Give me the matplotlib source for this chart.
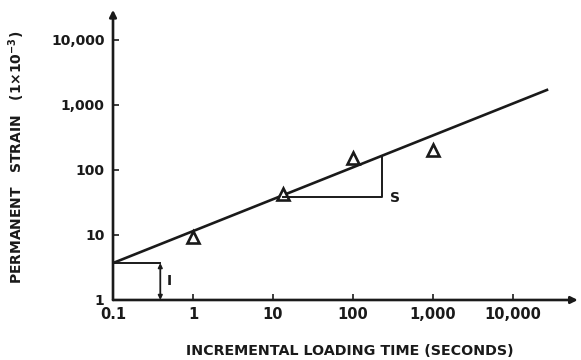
import matplotlib.pyplot as plt
import numpy as np

# measured points (loading time in s, permanent strain x1e-3)
time_pts = [1, 13.3, 100, 1000]
strain_pts = [9.3, 42, 155, 200]

# fitted line end points
line_t = [0.1, 26600]
line_e = [3.7, 1700]

# slope triangle and intercept marks
slope_t = [13.3, 232]
slope_e = [38, 160]
icpt_t = 0.39
icpt_e = 3.7

xticks = [0.1, 1, 10, 100, 1000, 10000]
xlabels = ['0.1', '1', '10', '100', '1,000', '10,000']
yticks = [1, 10, 100, 1000, 10000]
ylabels = ['1', '10', '100', '1,000', '10,000']

plt.rcParams['font.family'] = ['DejaVu Sans']
plt.rcParams['font.weight'] = 'bold'
plt.rcParams['mathtext.default'] = 'bf'

fig = plt.figure(figsize=(5.81, 3.6), dpi=100)
ax = fig.add_axes([0.1945, 0.1667, 0.80, 0.806])
ink = '#1a1a1a'

ax.set_xscale('log')
ax.set_yscale('log')
ax.set_xlim(0.1, 64600)
ax.set_ylim(1, 29000)

ax.plot(line_t, line_e, color=ink, lw=1.9)
ax.plot(time_pts, strain_pts, ls='none', marker='^', ms=8.5, mfc='white',
        mec=ink, mew=1.9)

# slope triangle
ax.plot([slope_t[0], slope_t[1], slope_t[1]],
        [slope_e[0], slope_e[0], slope_e[1]], color=ink, lw=1.4)
ax.text(slope_t[1] * 1.25, slope_e[0] * 0.97, 'S', fontsize=10,
        fontweight='bold', va='center', ha='left', color=ink)

# intercept
ax.plot([0.1, icpt_t], [icpt_e, icpt_e], color=ink, lw=1.4)
ax.annotate('', xy=(icpt_t, 1), xytext=(icpt_t, icpt_e),
            arrowprops=dict(arrowstyle='<|-|>', color=ink, lw=1.3,
                            mutation_scale=6, shrinkA=0, shrinkB=0))
ax.text(icpt_t * 1.2, 1.95, 'I', fontsize=10, fontweight='bold',
        va='center', ha='left', color=ink)

# axes with arrow heads
for s in ['top', 'right', 'left', 'bottom']:
    ax.spines[s].set_visible(False)
ax.annotate('', xy=(0, 1.0), xytext=(0, 0), xycoords='axes fraction',
            arrowprops=dict(arrowstyle='-|>', color=ink, lw=1.9,
                            mutation_scale=10, shrinkA=0, shrinkB=0))
ax.annotate('', xy=(1.0, 0), xytext=(0, 0), xycoords='axes fraction',
            arrowprops=dict(arrowstyle='-|>', color=ink, lw=1.9,
                            mutation_scale=10, shrinkA=0, shrinkB=0))

ax.set_xticks(xticks)
ax.set_xticklabels(xlabels)
ax.set_yticks(yticks)
ax.set_yticklabels(ylabels)
ax.minorticks_off()
ax.tick_params(axis='both', direction='in', length=4, width=1.2, colors=ink,
               pad=5)
ax.tick_params(axis='x', labelsize=10.5)
ax.tick_params(axis='y', labelsize=10, pad=6)

ax.set_xlabel('INCREMENTAL LOADING TIME (SECONDS)', fontsize=10.3,
              fontweight='bold', color=ink)
ax.xaxis.set_label_coords(0.51, -0.152)
ax.set_ylabel('PERMANENT   STRAIN   (1×10$^{-3}$)', fontsize=10,
              fontweight='bold', color=ink)
ax.yaxis.set_label_coords(-0.185, 0.49)

plt.savefig('out.png', dpi=100)
